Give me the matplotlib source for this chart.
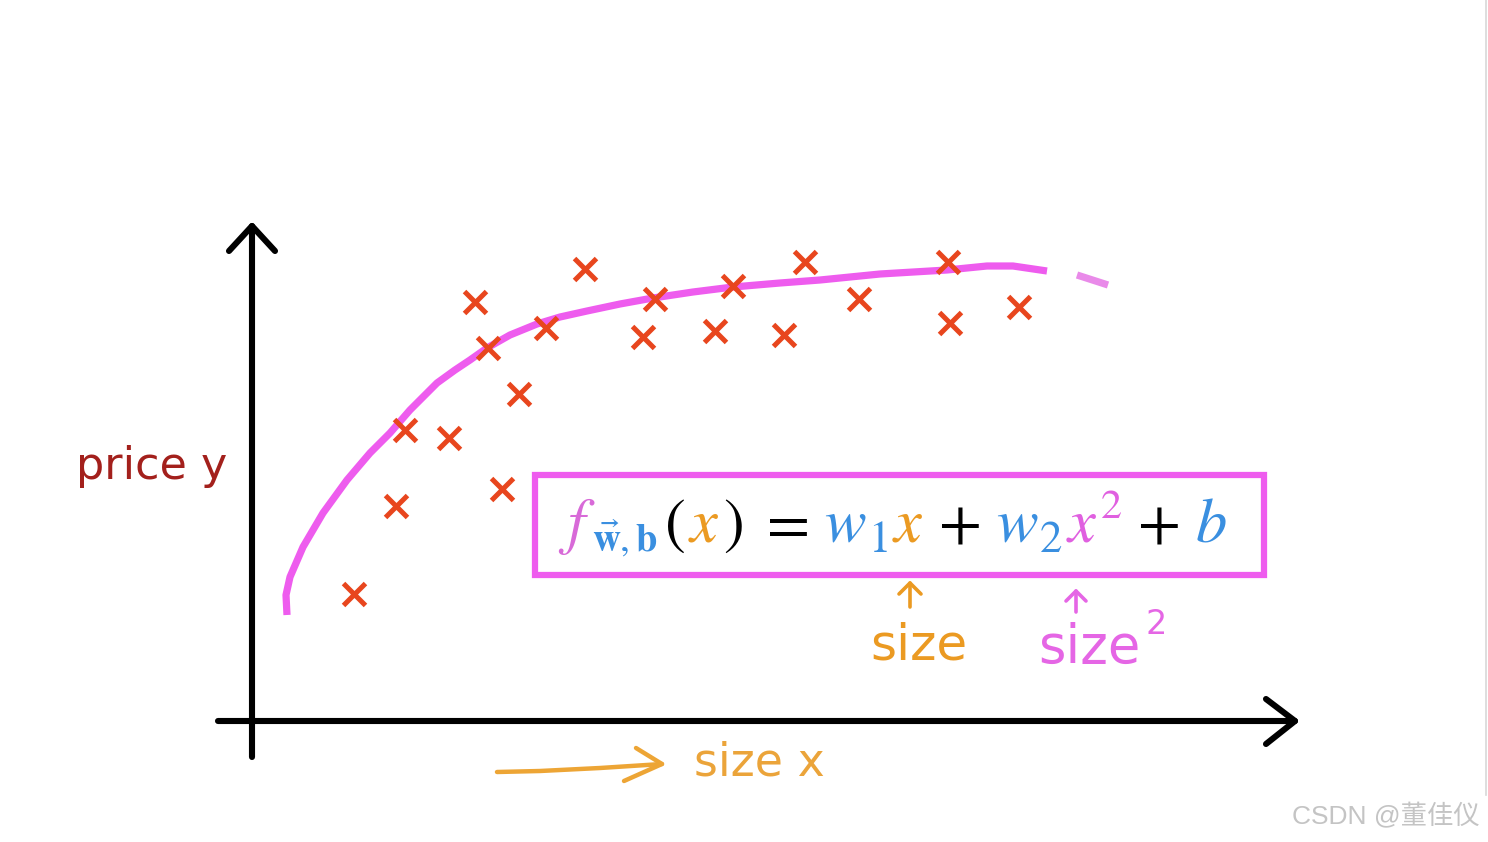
import matplotlib
matplotlib.use("Agg")
import matplotlib.pyplot as plt
from matplotlib.patches import Rectangle

plt.rcParams['mathtext.fontset'] = 'stix'

# ---------------- data (size x, price y) ----------------
size_pts = [10.2, 14.4, 15.3, 19.7, 25.0, 22.3, 23.6, 26.7, 29.4, 33.3,
            39.1, 40.3, 46.3, 48.1, 53.2, 55.3, 60.7, 69.6, 69.8, 76.7]
price_pts = [12.7, 21.5, 29.1, 28.3, 23.2, 41.9, 37.3, 32.7, 39.3, 45.2,
             38.4, 42.2, 39.0, 43.5, 38.6, 45.9, 42.2, 45.9, 39.8, 41.4]

curve_size = [3.5, 3.4, 3.8, 5.1, 7.1, 9.5, 11.8, 13.8, 15.8, 18.5, 20.3,
              21.8, 23.5, 25.8, 28.5, 30.8, 33.5, 36.8, 40.1, 44.1, 48.1,
              52.8, 56.8, 62.8, 69.5, 73.5, 76.1, 79.5]
curve_price = [10.6, 12.6, 14.4, 17.4, 20.8, 24.1, 26.8, 28.8, 31.1, 33.8, 35.1,
               36.1, 37.3, 38.6, 39.7, 40.4, 41.0, 41.7, 42.3, 42.9, 43.4,
               43.8, 44.1, 44.7, 45.1, 45.5, 45.5, 45.0]
ext_size = [82.5, 85.6]
ext_price = [44.6, 43.6]

x_label = "size x"
y_label = "price y"
note_linear = "size"
note_square = "size"
watermark = "CSDN @董佳仪"

# ---------------- figure ----------------
W, H = 1488, 842
fig = plt.figure(figsize=(W / 100, H / 100), dpi=100)
fig.patch.set_facecolor('white')

ov = fig.add_axes([0, 0, 1, 1])
ov.set_xlim(0, W)
ov.set_ylim(H, 0)
ov.axis('off')

ox, oy, sc = 252, 721, 10.0
ax = fig.add_axes([0, 0, 1, 1])
ax.set_xlim(-ox / sc, (W - ox) / sc)
ax.set_ylim(-(H - oy) / sc, oy / sc)
ax.axis('off')
ax.patch.set_alpha(0)

MAG = '#ee5cee'
RED = '#e8461e'
BLUE = '#3a8fe0'
ORANGE = '#eb9a22'

# axes arrows
kw = dict(color='black', lw=4.4, solid_capstyle='round', solid_joinstyle='round')
ov.plot([252, 252], [757, 226], **kw)
ov.plot([229, 252, 275], [251, 226, 251], **kw)
ov.plot([218, 1295], [721, 721], **kw)
ov.plot([1266, 1295, 1266], [699, 721, 744], **kw)

# curve + points
ax.plot(curve_size, curve_price, color=MAG, lw=5.2, solid_capstyle='butt',
        solid_joinstyle='round', zorder=2)
ax.plot(ext_size, ext_price, color='#e98ae9', lw=5.2, solid_capstyle='butt', zorder=2)
ax.scatter(size_pts, price_pts, marker='x', s=250, linewidths=3.6, color=RED, zorder=3)

# labels
ov.text(76, 467, y_label, color='#a3201c', fontsize=32, family='DejaVu Sans',
        va='center', ha='left')
ov.text(694, 763, x_label, color='#eba43a', fontsize=33, family='DejaVu Sans',
        va='center', ha='left')

# hand-drawn orange arrow
ov.plot([497, 540, 600, 662], [772, 771, 768, 764], color='#eda535', lw=3.2,
        solid_capstyle='round')
ov.plot([636, 662, 624], [748, 764, 781], color='#eda535', lw=3.2,
        solid_capstyle='round', solid_joinstyle='round')

# box
ov.add_patch(Rectangle((535, 475), 729, 100, fill=False, ec=MAG, lw=4.5))

# formula pieces: (text, colour, relative size, baseline shift px, gap px)
r = fig.canvas.get_renderer()
S = 45
base = 542
pieces = [
    (r"$f$", '#d86ad8', 1.0, 0, 0),
    (r"$\vec{\mathbf{w}},\mathbf{b}$", BLUE, 0.62, 9, -4),
    (r"$($", 'black', 1.0, 0, 7),
    (r"$x$", ORANGE, 1.0, 0, 3),
    (r"$)$", 'black', 1.0, 0, 3),
    (r"$=$", 'black', 1.0, 0, 15),
    (r"$w$", BLUE, 1.0, 0, 16),
    (r"$1$", BLUE, 0.72, 10, 1),
    (r"$x$", ORANGE, 1.0, 0, 4),
    (r"$+$", 'black', 1.0, 0, 15),
    (r"$w$", BLUE, 1.0, 0, 16),
    (r"$2$", BLUE, 0.72, 10, 1),
    (r"$x$", '#e060e0', 1.0, 0, 3),
    (r"$2$", '#e060e0', 0.68, -24, 3),
    (r"$+$", 'black', 1.0, 0, 15),
    (r"$b$", BLUE, 1.0, 0, 16),
]
cx = 558
for txt, col, rel, dy, gap in pieces:
    cx += gap
    t = ov.text(cx, base + dy, txt, color=col, fontsize=S * rel,
                ha='left', va='baseline')
    cx += t.get_window_extent(r).width

# annotations under the box
ov.plot([910, 910], [607, 583], color=ORANGE, lw=2.6, solid_capstyle='round')
ov.plot([899, 910, 921], [594, 583, 594], color=ORANGE, lw=2.6,
        solid_capstyle='round', solid_joinstyle='round')
ov.text(919, 646, note_linear, color=ORANGE, fontsize=36, family='DejaVu Sans',
        ha='center', va='center')

ov.plot([1076, 1076], [612, 591], color='#e566e5', lw=2.6, solid_capstyle='round')
ov.plot([1066, 1076, 1086], [601, 591, 601], color='#e566e5', lw=2.6,
        solid_capstyle='round', solid_joinstyle='round')
ov.text(1038, 648, note_square, color='#e566e5', fontsize=38, family='DejaVu Sans',
        ha='left', va='center')
ov.text(1146, 625, "2", color='#e566e5', fontsize=24, family='DejaVu Sans',
        ha='left', va='center')

# watermark + faint frame line
ov.plot([1486, 1486], [0, 795], color='#d8d8d8', lw=1.2)
ov.text(1292, 816, watermark, color='#c4c4c4', fontsize=19,
        family=['Liberation Sans', 'Noto Sans CJK SC'], ha='left', va='center')

fig.savefig('out.png', dpi=100)
